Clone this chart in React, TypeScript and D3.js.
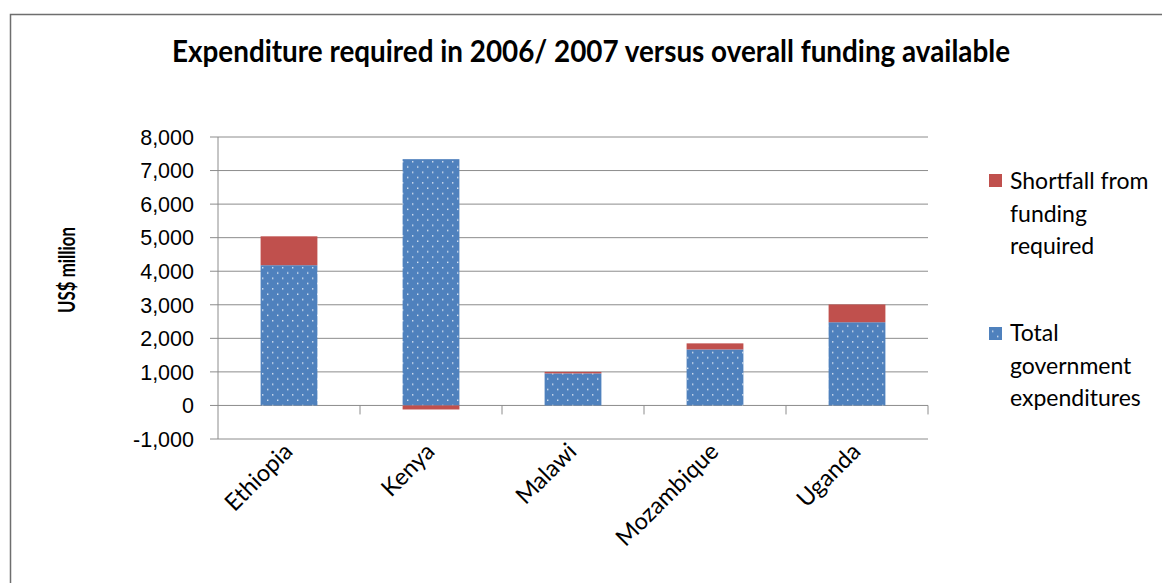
import * as React from "react";
import * as d3 from "d3";

const categories = ["Ethiopia", "Kenya", "Malawi", "Mozambique", "Uganda"];
const government = [4180, 7340, 955, 1670, 2480];
const shortfall = [860, -120, 45, 180, 530];
const yTicks = [-1000, 0, 1000, 2000, 3000, 4000, 5000, 6000, 7000, 8000];

const seriesKeys = ["government", "shortfall"];
const seriesColors: Record<string, string> = {
  government: "url(#dots)",
  shortfall: "#C0504D",
};

const legendShortfall = ["Shortfall from", "funding", "required"];
const legendGovernment = ["Total", "government", "expenditures"];

const width = 1162;
const height = 583;
const left = 218;
const right = 928;
const top = 137;
const bottom = 439;

// hyphen minus like the original, not the unicode minus d3 uses
const fmt = (v: number) => (v < 0 ? "-" : "") + d3.format(",")(Math.abs(v));

export default function App() {
  const rows = categories.map((c, i) => ({
    category: c,
    government: government[i],
    shortfall: shortfall[i],
  }));

  const x = d3
    .scaleBand()
    .domain(categories)
    .range([left, right])
    .paddingInner(0.6)
    .paddingOuter(0.3);

  const y = d3.scaleLinear().domain([-1000, 8000]).range([bottom, top]);

  const stacked = d3
    .stack<any>()
    .keys(seriesKeys)
    .offset(d3.stackOffsetDiverging)(rows);

  const step = x.step();

  return (
    <svg
      width={width}
      height={height}
      style={{ position: "absolute", left: 0, top: 0, background: "#fff" }}
    >
      <defs>
        <pattern id="dots" width={10} height={10.6} patternUnits="userSpaceOnUse">
          <rect width={10} height={10.6} fill="#4F81BD" />
          <rect x={2} y={2} width={1.4} height={1.4} fill="#dde7f3" />
          <rect x={7} y={7.3} width={1.4} height={1.4} fill="#dde7f3" />
        </pattern>
      </defs>

      {/* chart frame */}
      <rect x={10.5} y={14.5} width={1300} height={700} fill="none" stroke="#6e6e6e" strokeWidth={1.5} />

      <text
        x={591}
        y={62}
        textAnchor="middle"
        fontFamily="Lato"
        fontWeight="bold"
        fontSize={30}
        textLength={838}
        lengthAdjust="spacingAndGlyphs"
        fill="#000"
      >
        Expenditure required in 2006/ 2007 versus overall funding available
      </text>

      {/* gridlines + y ticks */}
      {yTicks.map((t) => (
        <g key={t}>
          <line x1={left - 8} x2={right} y1={y(t)} y2={y(t)} stroke="#8c8c8c" strokeWidth={1} />
          <text
            x={194}
            y={y(t)}
            dy="0.36em"
            textAnchor="end"
            fontFamily="Liberation Sans"
            fontSize={21.5}
            fill="#000"
          >
            {fmt(t)}
          </text>
        </g>
      ))}
      <line x1={left} x2={left} y1={top} y2={bottom} stroke="#8c8c8c" strokeWidth={1} />

      {/* category ticks on zero line */}
      {categories.map((c, i) => (
        <line
          key={c}
          x1={left + step * (i + 1)}
          x2={left + step * (i + 1)}
          y1={y(0)}
          y2={y(0) + 9}
          stroke="#8c8c8c"
          strokeWidth={1}
        />
      ))}

      {/* bars */}
      {stacked.map((s) => (
        <g key={s.key}>
          {s.map((d, i) => (
            <rect
              key={i}
              x={x(categories[i])}
              width={x.bandwidth()}
              y={y(Math.max(d[0], d[1]))}
              height={Math.abs(y(d[0]) - y(d[1]))}
              fill={seriesColors[s.key]}
            />
          ))}
        </g>
      ))}

      {/* category labels */}
      {categories.map((c) => (
        <text
          key={c}
          transform={`translate(${(x(c) ?? 0) + x.bandwidth() / 2 + 5},${453}) rotate(-45)`}
          textAnchor="end"
          fontFamily="Lato"
          fontSize={23.5}
          fill="#000"
        >
          {c}
        </text>
      ))}

      <text
        transform="translate(75,270) rotate(-90)"
        textAnchor="middle"
        fontFamily="Lato"
        fontWeight="bold"
        fontSize={23}
        textLength={86}
        lengthAdjust="spacingAndGlyphs"
        fill="#000"
      >
        US$ million
      </text>

      {/* legend */}
      <rect x={989} y={174} width={13} height={13} fill="#C0504D" />
      {legendShortfall.map((t, i) => (
        <text key={t} x={1010} y={189 + i * 32.5} fontFamily="Lato" fontSize={23} fill="#000">
          {t}
        </text>
      ))}
      <rect x={989} y={327} width={13} height={13} fill="url(#dots)" />
      {legendGovernment.map((t, i) => (
        <text key={t} x={1010} y={341 + i * 32.5} fontFamily="Lato" fontSize={23} fill="#000">
          {t}
        </text>
      ))}
    </svg>
  );
}
